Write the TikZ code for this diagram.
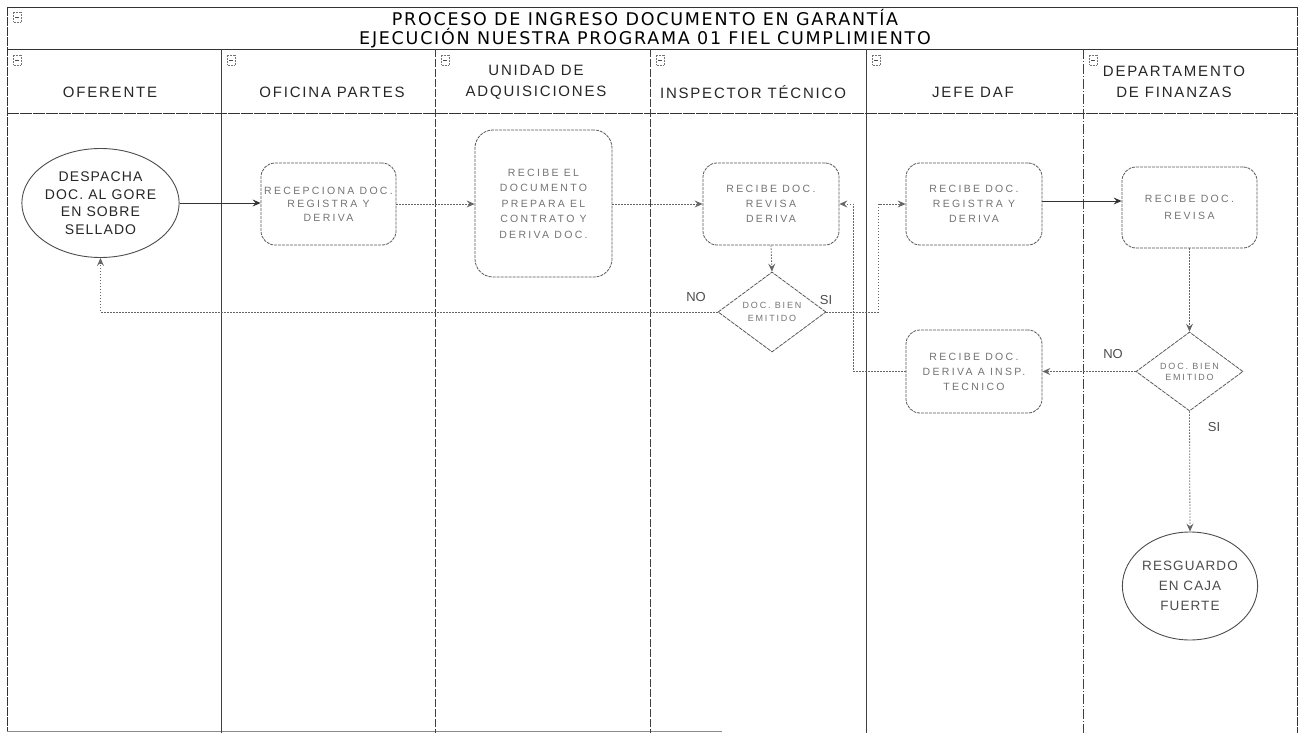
\documentclass[tikz,border=0pt]{standalone}
\usepackage{fontspec}
\setmainfont{Liberation Sans}
\newfontfamily\titlefont[LetterSpace=10]{DejaVu Sans}
\newfontfamily\headfont[LetterSpace=12]{Liberation Sans}
\newfontfamily\stepfont[LetterSpace=22]{Liberation Sans}
\newfontfamily\ovalfont[LetterSpace=8]{Liberation Sans}
\newfontfamily\decfont[LetterSpace=20]{Liberation Sans}
\usetikzlibrary{shapes.geometric,arrows.meta}

\begin{document}
\begin{tikzpicture}[x=1pt,y=-1pt,
  frameline/.style={line width=0.9pt, draw=black!80},
  laneline/.style={line width=0.9pt, draw=black!75},
  lanedash/.style={laneline, dash pattern=on 8pt off 2pt},
  headtext/.style={align=center, text=black!85, font=\headfont\fontsize{15}{21}\selectfont, inner sep=0pt},
  stepbox/.style={draw=black!65, line width=0.8pt, dash pattern=on 3pt off 1pt,
    rounded corners=14pt, minimum width=136pt, minimum height=82pt, align=center,
    text=black!55, font=\stepfont\fontsize{10.5}{15}\selectfont, inner sep=0pt},
  oval/.style={ellipse, draw=black!70, line width=0.9pt, minimum width=135pt,
    minimum height=109pt, align=center, inner sep=0pt},
  decision/.style={diamond, draw=black!65, line width=0.8pt, dash pattern=on 4pt off 1pt,
    minimum width=108pt, minimum height=80pt, aspect=1.35, align=center, inner sep=0pt,
    text=black!55, font=\decfont\fontsize{9}{13}\selectfont},
  tip/.style={-{Stealth[length=8pt,width=7pt,inset=3pt]}},
  solidflow/.style={tip, draw=black!80, line width=0.9pt},
  dotflow/.style={tip, draw=black!60, line width=0.8pt, dash pattern=on 1.5pt off 1.5pt},
  lbl/.style={text=black!70, font=\fontsize{13}{15}\selectfont, inner sep=0pt},
  collapse/.style={draw=black!55, line width=0.5pt, densely dotted}
]
\useasboundingbox (0,0) rectangle (1299,733);

% outer frame, title band and header row
\draw[frameline] (7,7) -- (1297,7);
\draw[frameline, dash pattern=on 9pt off 1pt] (7,7) -- (7,731);
\draw[frameline, dash pattern=on 9pt off 1pt] (1297,7) -- (1297,733);
\draw[line width=1pt, draw=black!45] (7,731) -- (722,731);
\draw[frameline] (7,49) -- (1297,49);
\draw[frameline, dash pattern=on 12pt off 1pt] (7,113) -- (1297,113);

% swimlane separators
\draw[laneline] (221,49) -- (221,733);
\draw[lanedash] (435,49) -- (435,733);
\draw[lanedash] (650,49) -- (650,733);
\draw[laneline] (866,49) -- (866,733);
\draw[laneline, dash pattern=on 10pt off 2pt on 1pt off 2pt] (1083,49) -- (1083,733);

% collapse markers in the title band and each lane header
\foreach \xx/\yy in {13/12, 13/55, 227/55, 441/55, 656/55, 872/55, 1089/55}{
  \draw[collapse] (\xx,\yy) rectangle ++(8,10);
  \draw[draw=black!70, line width=0.8pt] (\xx+2,\yy+5) -- ++(4,0);
}

% title
\node[align=center, inner sep=0pt, font=\titlefont\fontsize{17.5}{19.5}\selectfont] (title) at (645,28.5)
  {PROCESO DE INGRESO DOCUMENTO EN GARANTÍA\\EJECUCIÓN NUESTRA PROGRAMA 01 FIEL CUMPLIMIENTO};

% lane headers
\node[headtext] (h1) at (110,92) {OFERENTE};
\node[headtext] (h2) at (332,92) {OFICINA PARTES};
\node[headtext] (h3) at (536,82) {UNIDAD DE\\ADQUISICIONES};
\node[headtext] (h4) at (753,92) {INSPECTOR TÉCNICO};
\node[headtext] (h5) at (973,92) {JEFE DAF};
\node[headtext] (h6) at (1174,82) {DEPARTAMENTO\\DE FINANZAS};

% process steps
\node[oval, text=black!85, font=\ovalfont\fontsize{14}{17.5}\selectfont] (despacha) at (100.5,203)
  {DESPACHA\\DOC. AL GORE\\EN SOBRE\\SELLADO};
\node[stepbox, minimum width=135pt, font=\stepfont\fontsize{10.5}{13.5}\selectfont] (recep) at (328.5,204)
  {RECEPCIONA DOC.\\REGISTRA Y\\DERIVA};
\node[stepbox, minimum width=137pt, minimum height=147pt, rounded corners=18pt,
  font=\stepfont\fontsize{10.5}{15.5}\selectfont] (unidad) at (543.5,203.5)
  {RECIBE EL\\DOCUMENTO\\PREPARA EL\\CONTRATO Y\\DERIVA DOC.};
\node[stepbox] (insp) at (771,204) {RECIBE DOC.\\REVISA\\DERIVA};
\node[decision] (dec1) at (772,312) {DOC. BIEN\\EMITIDO};
\node[stepbox] (jefe1) at (974,204) {RECIBE DOC.\\REGISTRA Y\\DERIVA};
\node[stepbox, minimum width=135pt, minimum height=81pt, font=\stepfont\fontsize{10.5}{17}\selectfont]
  (fin) at (1189.5,207.5) {RECIBE DOC.\\REVISA};
\node[decision, minimum width=107pt, minimum height=79pt, font=\decfont\fontsize{9}{11}\selectfont]
  (dec2) at (1189.5,371.5) {DOC. BIEN\\EMITIDO};
\node[stepbox, minimum height=83pt] (jefe2) at (974,371.5) {RECIBE DOC.\\DERIVA A INSP.\\TECNICO};
\node[oval, minimum width=134pt, minimum height=108pt, text=black!70,
  font=\ovalfont\fontsize{13.5}{20}\selectfont] (resguardo) at (1190,586)
  {RESGUARDO\\EN CAJA\\FUERTE};

% connectors
\draw[solidflow] (despacha.east) -- (despacha.east -| recep.west);
\draw[dotflow] (recep.east) -- (unidad.west |- recep.east);
\draw[dotflow] (unidad.east |- insp.west) -- (insp.west);
\draw[dotflow] (insp.south) -- (dec1.north);
\draw[dotflow] (dec1.west) -| (despacha.south);
\draw[dotflow] (dec1.east) -| ([xshift=-27pt]jefe1.west) -- (jefe1.west);
\draw[solidflow] ([yshift=3pt]jefe1.east) -- ([yshift=3pt]jefe1.east -| fin.west);
\draw[dotflow] (fin.south) -- (dec2.north);
\draw[dotflow] (dec2.west) -- (jefe2.east);
\draw[dotflow] (jefe2.west) -| ([xshift=14pt]insp.east) -- (insp.east);
\draw[dotflow] (dec2.south) -- (resguardo.north);

% branch labels
\node[lbl] (no1) at (696,297) {NO};
\node[lbl] (si1) at (826,300) {SI};
\node[lbl] (no2) at (1113,354) {NO};
\node[lbl] (si2) at (1214,427) {SI};
\end{tikzpicture}
\end{document}
